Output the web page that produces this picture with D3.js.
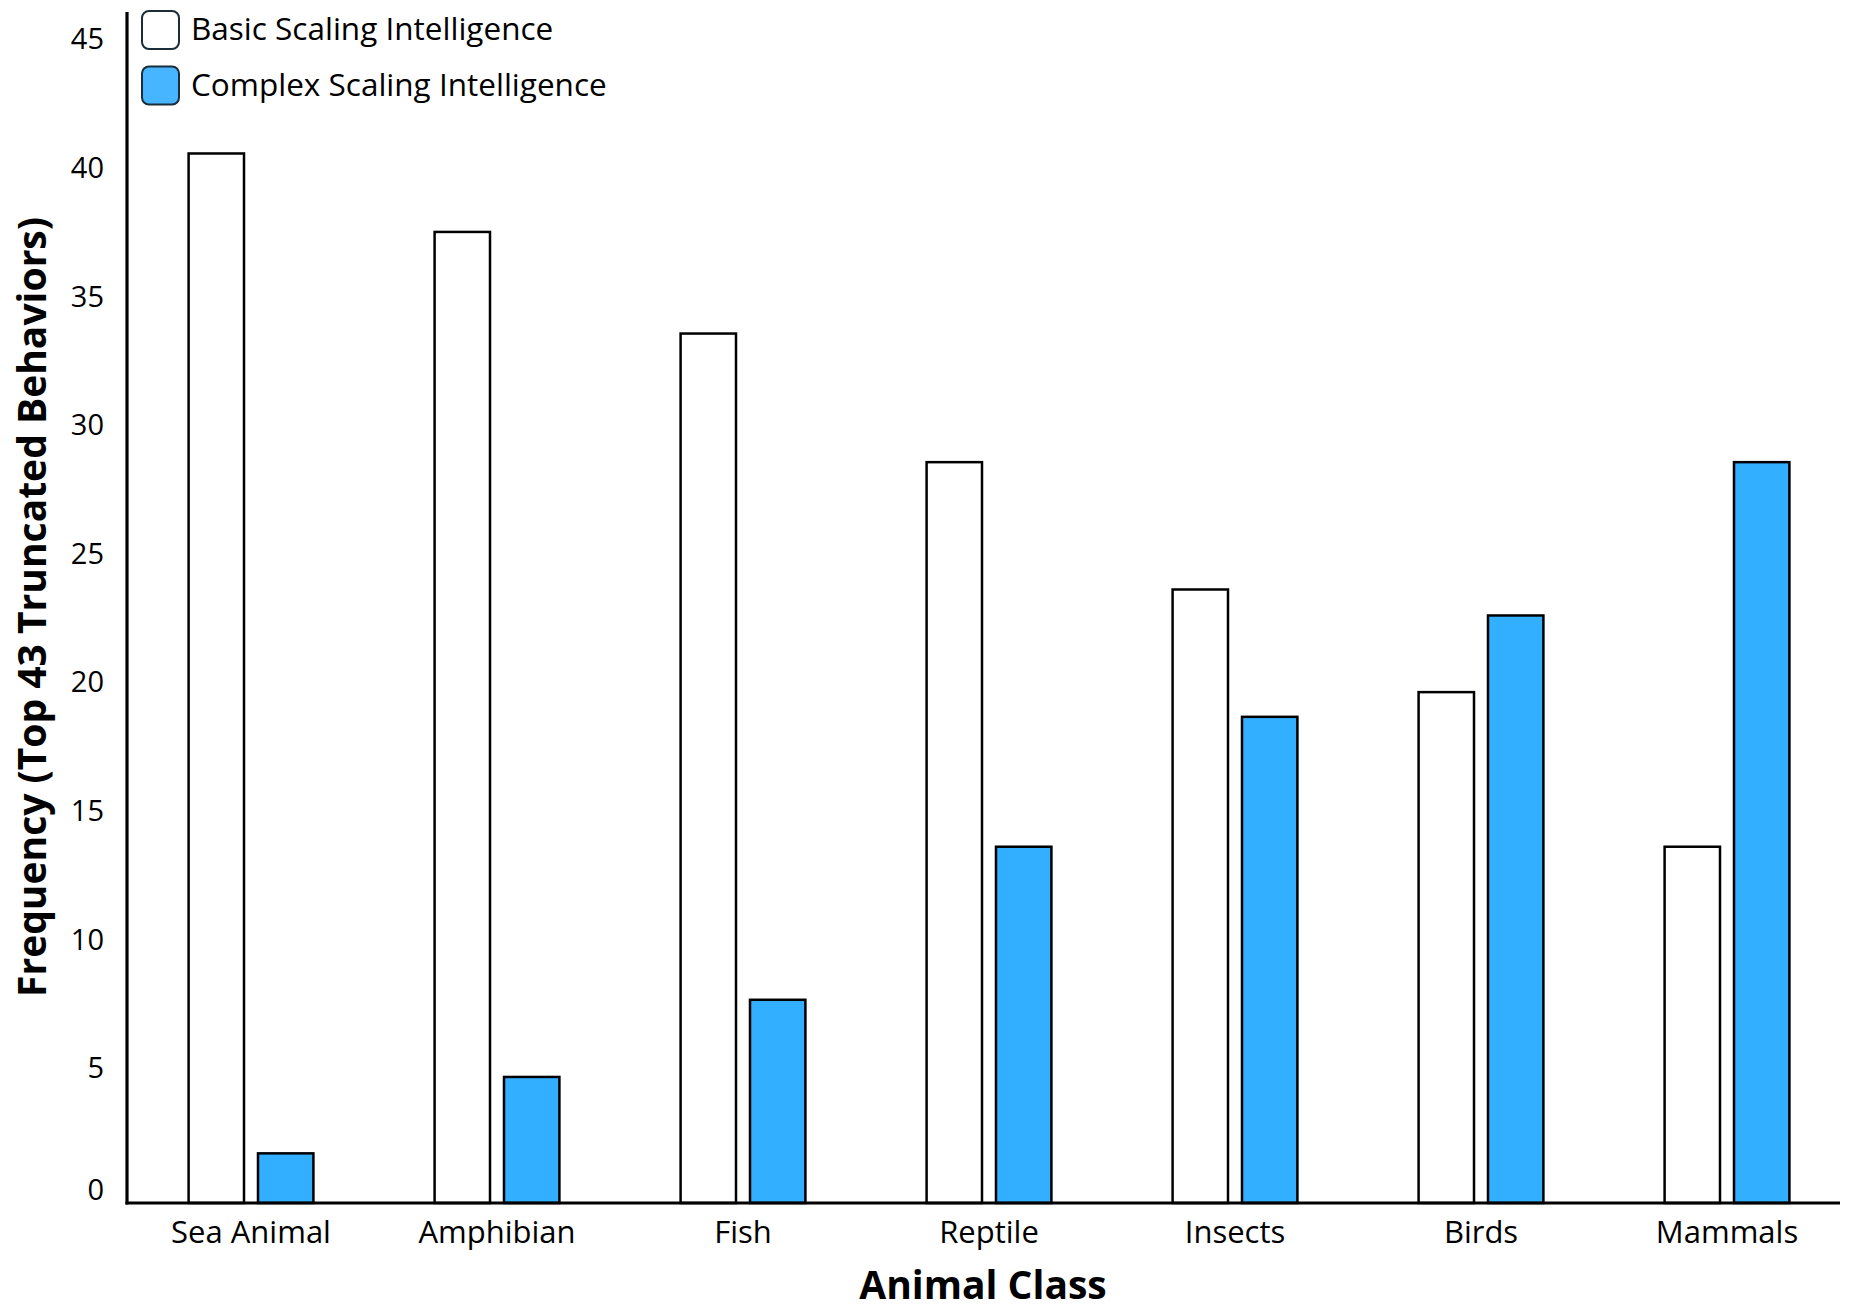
<!DOCTYPE html>
<html><head><meta charset="utf-8">
<script src="https://cdn.jsdelivr.net/npm/d3@7"></script>
<style>body{margin:0;background:#fff}</style>
</head><body>
<script>
const categories = ["Sea Animal","Amphibian","Fish","Reptile","Insects","Birds","Mammals"];
const seriesNames = ["Basic Scaling Intelligence","Complex Scaling Intelligence"];
const basicValues = [40.8, 37.75, 33.8, 28.8, 23.85, 19.86, 13.85];
const complexValues = [1.93, 4.9, 7.9, 13.85, 18.9, 22.84, 28.8];
const yTicks = [0,5,10,15,20,25,30,35,40,45];

const W = 1849, H = 1309;
const FONT = "'Open Sans', Lato, sans-serif";
const colors = {basic:"#ffffff", complex:"#33afff"};

const svg = d3.select("body").append("svg").attr("width", W).attr("height", H)
  .style("font-family", FONT);

const y = d3.scaleLinear().domain([0, 46.3]).range([1203, 12]);
const x = d3.scaleBand().domain(categories).range([128, 1850]).padding(0);
const inner = d3.scaleBand().domain(["basic","complex"]).range([-62.4, 62.4]).paddingInner(0.2017).paddingOuter(0);

const data = categories.map((c,i)=>({cat:c, basic:basicValues[i], complex:complexValues[i]}));

const g = svg.append("g");
data.forEach(d=>{
  const cx = x(d.cat) + x.bandwidth()/2;
  ["basic","complex"].forEach(k=>{
    g.append("rect")
      .attr("x", cx + inner(k))
      .attr("y", y(d[k]))
      .attr("width", inner.bandwidth())
      .attr("height", y(0) - y(d[k]))
      .attr("fill", colors[k])
      .attr("stroke", "#000")
      .attr("stroke-width", 2.5);
  });
});

// y axis
const yAxis = d3.axisLeft(y).tickValues(yTicks).tickSize(0).tickPadding(0);
const ya = svg.append("g").attr("transform","translate(104,0)").call(yAxis);
ya.select(".domain").remove();
ya.selectAll("text").attr("font-size", 29).attr("fill","#000").attr("font-family", FONT)
  .attr("dy","0.36em").attr("y", d => d === 0 ? -14 : -7);
svg.append("line").attr("x1",127).attr("x2",127).attr("y1",12).attr("y2",y(0)+1.5)
  .attr("stroke","#000").attr("stroke-width",3.2);

// x axis
const xAxis = d3.axisBottom(x).tickSize(0).tickPadding(0);
const xa = svg.append("g").attr("transform",`translate(0,${y(0)})`).call(xAxis);
xa.select(".domain").remove();
xa.selectAll("text").attr("font-size", 31).attr("fill","#000").attr("font-family", FONT)
  .attr("dy","0").attr("y", 40);
svg.append("line").attr("x1",125.5).attr("x2",1840).attr("y1",y(0)).attr("y2",y(0))
  .attr("stroke","#000").attr("stroke-width",3.2);

// axis titles
svg.append("text").attr("x", 983).attr("y", 1299).attr("text-anchor","middle")
  .attr("font-size", 39).attr("font-weight","bold").text("Animal Class");
svg.append("text").attr("transform","translate(46,607) rotate(-90)").attr("text-anchor","middle")
  .attr("font-size", 39).attr("font-weight","bold").text("Frequency (Top 43 Truncated Behaviors)");

// legend
const leg = svg.append("g");
seriesNames.forEach((n,i)=>{
  const k = i===0 ? "basic" : "complex";
  const yy = 11 + i*55.5;
  leg.append("rect").attr("x",142).attr("y",yy).attr("width",37).attr("height",38).attr("rx",7)
    .attr("fill", k==="basic" ? "#fff" : "#47b5ff").attr("stroke","#1c2d3a").attr("stroke-width",2);
  leg.append("text").attr("x",191).attr("y",yy+18).attr("dy","0.36em")
    .attr("font-size",31.5).text(n);
});
</script>
</body></html>
